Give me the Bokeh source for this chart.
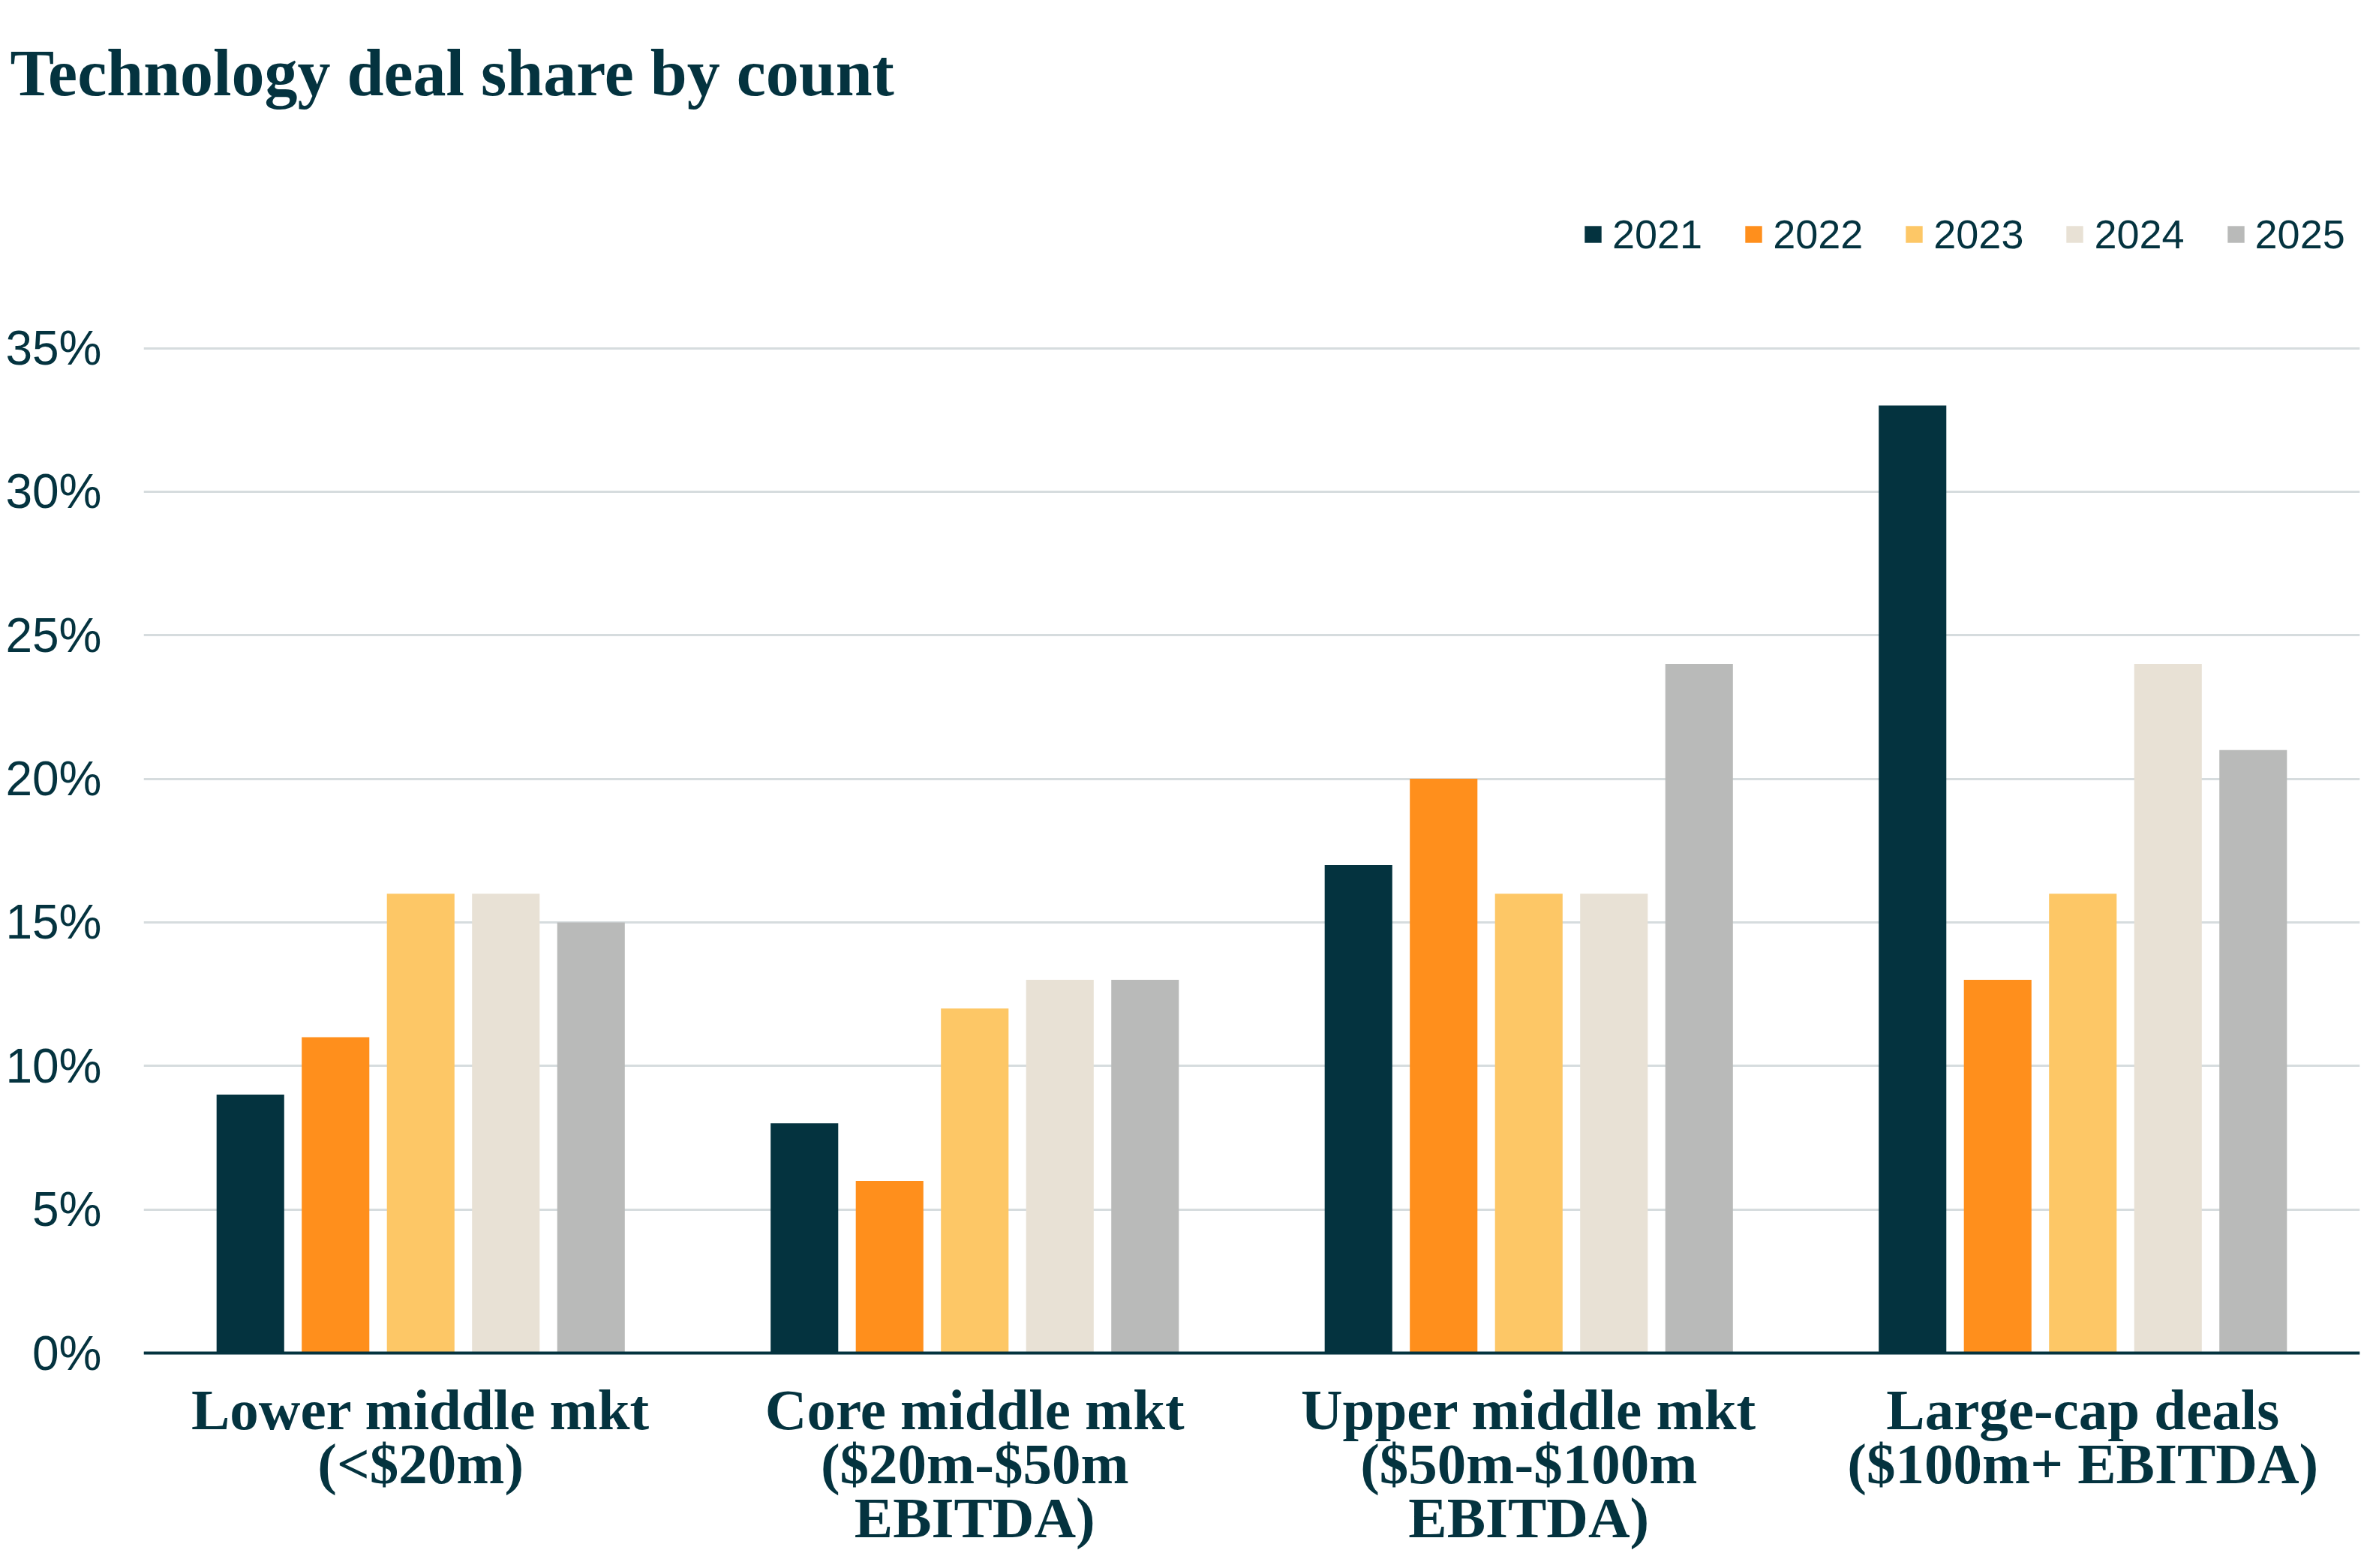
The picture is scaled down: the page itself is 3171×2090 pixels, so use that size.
from bokeh.plotting import figure
from bokeh.models import (ColumnDataSource, FactorRange, Range1d, Span,
                          FixedTicker, PrintfTickFormatter)
from bokeh.core.properties import value
from bokeh.transform import dodge
from bokeh.embed import file_html
from bokeh.resources import INLINE

# ---- data ----
categories = ["lower", "core", "upper", "large"]
category_labels = [
    "Lower middle mkt\n(<$20m)",
    "Core middle mkt\n($20m-$50m\nEBITDA)",
    "Upper middle mkt\n($50m-$100m\nEBITDA)",
    "Large-cap deals\n($100m+ EBITDA)",
]
years = ["2021", "2022", "2023", "2024", "2025"]
v2021 = [9, 8, 17, 33]
v2022 = [11, 6, 20, 13]
v2023 = [16, 12, 16, 16]
v2024 = [16, 13, 16, 24]
v2025 = [15, 13, 24, 21]
y_ticks = [0, 5, 10, 15, 20, 25, 30, 35]
colors = ["#04333F", "#FF8F1C", "#FDC766", "#E8E1D5", "#B9BAB9"]
title_text = "Technology deal share by count"

TEXT = "#04333F"

source = ColumnDataSource(dict(cat=categories, y2021=v2021, y2022=v2022,
                               y2023=v2023, y2024=v2024, y2025=v2025,
                               label=category_labels,
                               base=[0] * len(categories)))

W, H = 3155, 2074
TOP = 150          # frame top (figure px)
ZERO = 1803        # 0% line (figure px)
PX_PER = 38.27     # px per percentage point
y_top = (ZERO - TOP) / PX_PER
y_bot = -(H - ZERO) / PX_PER

p = figure(x_range=FactorRange(*categories), y_range=Range1d(y_bot, y_top),
           width=W, height=H, output_backend="svg", toolbar_location=None,
           title=title_text, x_axis_location=None,
           min_border_left=191, min_border_right=10,
           min_border_top=TOP, min_border_bottom=0)
p.background_fill_color = "white"
p.border_fill_color = "white"
p.outline_line_color = None

p.title.text_font = "Liberation Serif"
p.title.text_font_style = "bold"
p.title.text_font_size = "88px"
p.title.text_color = TEXT
p.title.align = "left"
p.title.offset = -178
p.title.standoff = 10

pitch = 0.1537
bw = 0.122
for i, yr in enumerate(years):
    p.vbar(x=dodge("cat", (i - 2) * pitch, range=p.x_range), top="y" + yr,
           width=bw, source=source, fill_color=colors[i], line_color=None,
           legend_label=yr)

# category labels under the axis
p.text(x="cat", y="base", text="label", source=source, y_offset=32,
       text_align="center", text_baseline="top",
       text_font=value("Liberation Serif"), text_font_style="bold",
       text_font_size="77px", text_line_height=0.84, text_color=TEXT)

# x axis line
p.add_layout(Span(location=0, dimension="width", line_color=TEXT,
                  line_width=4))

# y axis
p.xgrid.grid_line_color = None
p.ygrid.grid_line_color = "#D6DCDE"
p.ygrid.grid_line_width = 3
p.yaxis.ticker = FixedTicker(ticks=y_ticks)
p.yaxis.formatter = PrintfTickFormatter(format="%d%%")
p.yaxis.axis_line_color = None
p.yaxis.major_tick_line_color = None
p.yaxis.minor_tick_line_color = None
p.yaxis.major_tick_out = 0
p.yaxis.major_tick_in = 0
p.yaxis.major_label_standoff = 56
p.yaxis.major_label_text_font = "Liberation Sans"
p.yaxis.major_label_text_font_size = "64px"
p.yaxis.major_label_text_color = TEXT

# legend
lg = p.legend[0]
lg.orientation = "horizontal"
lg.location = (1918, 1731)
lg.glyph_width = 28
lg.glyph_height = 28
lg.label_standoff = 12
lg.spacing = 54
lg.padding = 0
lg.margin = 0
lg.border_line_color = None
lg.background_fill_alpha = 0
lg.label_text_font = "Liberation Sans"
lg.label_text_font_size = "54px"
lg.label_text_color = TEXT

open("out.html", "w").write(file_html(p, INLINE))
